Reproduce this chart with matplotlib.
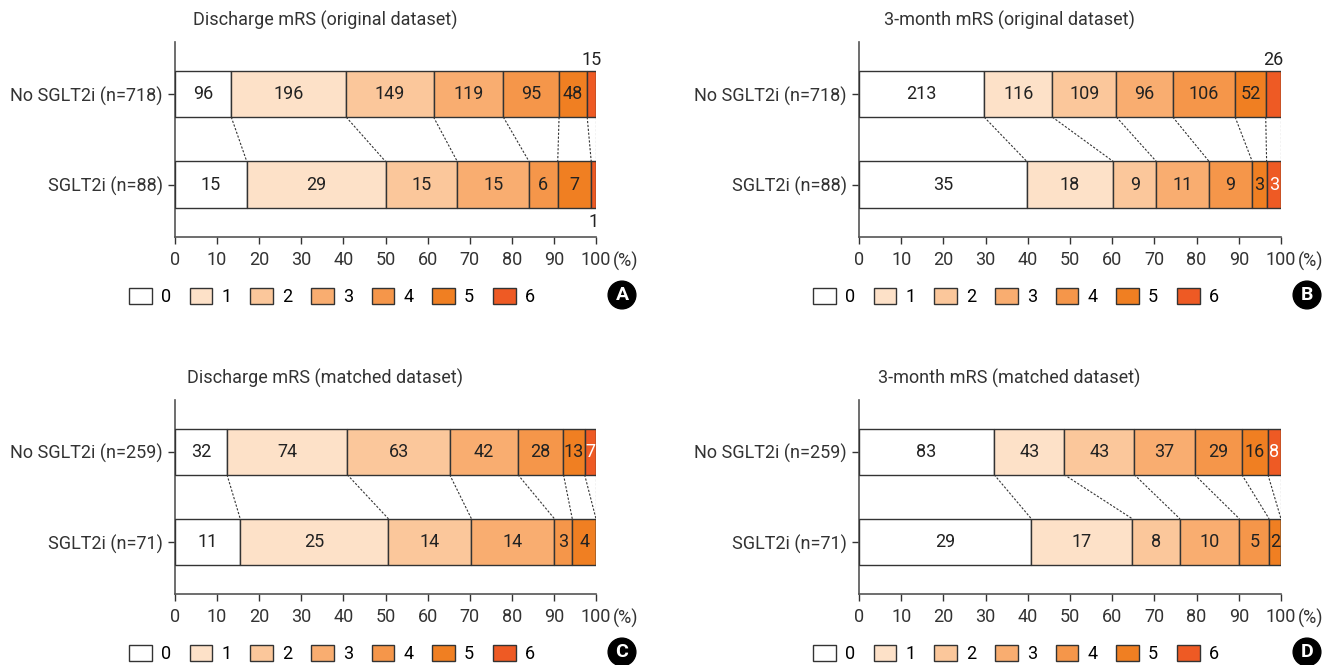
import matplotlib
matplotlib.use("Agg")
import matplotlib.pyplot as plt
from matplotlib.patches import Patch
import numpy as np

plt.rcParams['font.family'] = ['Roboto', 'DejaVu Sans']

# mRS scores 0..6
scores = ["0", "1", "2", "3", "4", "5", "6"]
colors = ["#ffffff", "#fde1c8", "#fbc79b", "#f9ad70", "#f5964a", "#f07f22", "#ee5a24"]
text_colors = ["#222222"] * 6 + ["#ffffff"]

titles = ["Discharge mRS (original dataset)", "3-month mRS (original dataset)",
          "Discharge mRS (matched dataset)", "3-month mRS (matched dataset)"]
letters = ["A", "B", "C", "D"]

row_labels_orig = ["No SGLT2i (n=718)", "SGLT2i (n=88)"]
row_labels_match = ["No SGLT2i (n=259)", "SGLT2i (n=71)"]

a_no = [96, 196, 149, 119, 95, 48, 15]
a_sg = [15, 29, 15, 15, 6, 7, 1]
b_no = [213, 116, 109, 96, 106, 52, 26]
b_sg = [35, 18, 9, 11, 9, 3, 3]
c_no = [32, 74, 63, 42, 28, 13, 7]
c_sg = [11, 25, 14, 14, 3, 4, 0]
d_no = [83, 43, 43, 37, 29, 16, 8]
d_sg = [29, 17, 8, 10, 5, 2, 0]

# labels drawn outside the bar: (row, category) -> side
outside_a = {(0, 6): "above", (1, 6): "below"}
outside_b = {(0, 6): "above"}

panels = [
    (a_no, a_sg, row_labels_orig, outside_a),
    (b_no, b_sg, row_labels_orig, outside_b),
    (c_no, c_sg, row_labels_match, {}),
    (d_no, d_sg, row_labels_match, {}),
]

W, H = 1338, 665
fig = plt.figure(figsize=(W / 100, H / 100), dpi=100)

# axes boxes in pixels: left, top, right, bottom
boxes = [(175, 42, 596, 237), (859, 42, 1281, 237),
         (175, 400, 596, 594), (859, 400, 1281, 594)]

bh = 0.51
ink = "#333333"
fs = 13

for k, (no, sg, rlabels, outside) in enumerate(panels):
    l, t, r, b = boxes[k]
    ax = fig.add_axes([l / W, 1 - b / H, (r - l) / W, (b - t) / H])
    rows = [np.array(no, float), np.array(sg, float)]
    ys = [1, 0]
    cums = []
    for ri, vals in enumerate(rows):
        pct = vals / vals.sum() * 100
        left = np.concatenate([[0], np.cumsum(pct)[:-1]])
        cums.append(np.cumsum(pct))
        ax.barh(ys[ri], pct, left=left, height=bh, color=colors,
                edgecolor=ink, linewidth=1.0, zorder=3)
        for j, v in enumerate(vals):
            if v == 0:
                continue
            xc = left[j] + pct[j] / 2
            side = outside.get((ri, j))
            if side == "above":
                ax.text(xc, ys[ri] + bh / 2 + 0.02, f"{int(v)}", ha="center", va="bottom",
                        fontsize=fs, color="#222222")
            elif side == "below":
                ax.text(xc, ys[ri] - bh / 2 - 0.06, f"{int(v)}", ha="center", va="top",
                        fontsize=fs, color="#222222")
            else:
                ax.text(xc, ys[ri], f"{int(v)}", ha="center", va="center",
                        fontsize=fs, color=text_colors[j], zorder=4)
    # dashed connectors between cumulative boundaries
    for j in range(7):
        ax.plot([cums[0][j], cums[1][j]], [1 - bh / 2, bh / 2], color=ink,
                linestyle=(0, (2, 1.5)), linewidth=0.8, zorder=2)

    ax.set_xlim(0, 100)
    ax.set_ylim(-0.58, 1.575)
    ax.set_xticks(range(0, 101, 10))
    ax.set_yticks([1, 0])
    ax.set_yticklabels(rlabels)
    ax.tick_params(axis="both", labelsize=fs, colors=ink, length=5, width=1, pad=4)
    ax.tick_params(axis="x", pad=5)
    for s in ["top", "right"]:
        ax.spines[s].set_visible(False)
    for s in ["left", "bottom"]:
        ax.spines[s].set_color("#555555")
        ax.spines[s].set_linewidth(1.2)
    ax.text(1.04, -0.125, "(%)", transform=ax.transAxes, ha="left", va="center",
            fontsize=fs, color=ink)
    ax.text(0.356, 1.11, titles[k], transform=ax.transAxes, ha="center", va="center",
            fontsize=fs, color=ink)

    # legend row
    handles = [Patch(facecolor=c, edgecolor=ink, linewidth=1.0) for c in colors]
    ly = (b + 60) / H
    fig.legend(handles, scores, loc="center left", bbox_to_anchor=((l - 46) / W, 1 - ly),
               ncol=7, frameon=False, fontsize=fs, handlelength=1.25, handleheight=0.95,
               handletextpad=0.5, columnspacing=1.05, borderaxespad=0, borderpad=0)

    fig.text((r + 26) / W, 1 - (b + 58) / H, letters[k], ha="center", va="center", fontsize=14,
             color="white", fontweight="bold",
             bbox=dict(boxstyle="circle,pad=0.25", fc="black", ec="black"))

fig.savefig("out.png", dpi=100)
